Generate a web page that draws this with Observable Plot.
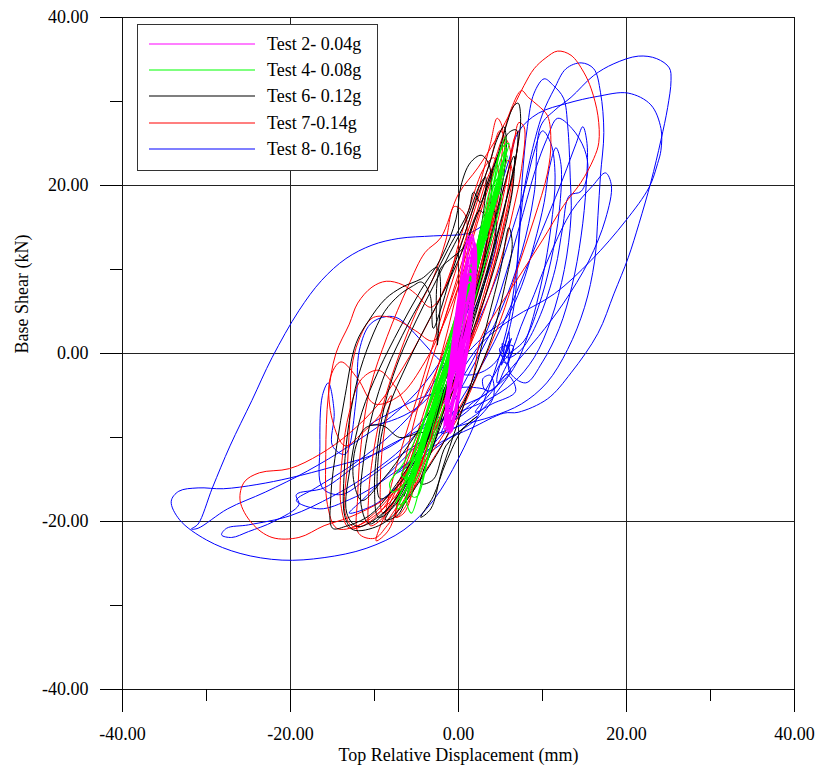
<!DOCTYPE html>
<html><head><meta charset="utf-8">
<script src="https://cdn.jsdelivr.net/npm/d3@7"></script>
<script src="https://cdn.jsdelivr.net/npm/@observablehq/plot@0.6"></script>
<style>
body{margin:0;background:#fff;}
#wrap{position:relative;width:820px;height:769px;font-family:"Liberation Serif","Times New Roman",serif;}
#legend{position:absolute;left:137px;top:24px;width:241px;height:147px;border:1px solid #333;background:#fff;box-sizing:border-box;}
.row{position:absolute;left:11px;height:20px;display:flex;align-items:center;font-size:18px;color:#000;white-space:nowrap;}
.row svg{margin-right:12px;display:block;}
</style>
</head><body>
<div id="wrap"><div id="chart"></div><div id="legend"></div></div>
<script>
// Axis ticks
const majorTicks = [-40, -20, 0, 20, 40];
const minorTicks = [-30, -10, 10, 30];
const gridLines = [-20, 0, 20];

// Series names and colours
const seriesNames = ["Test 2- 0.04g", "Test 4- 0.08g", "Test 6- 0.12g", "Test 7-0.14g", "Test 8- 0.16g"];
const seriesColors = ["#ff00ff", "#00ff00", "#000000", "#ff0000", "#0000ff"];

// Test 8 - 0.16g  [displacement mm, base shear kN]
const test8 = [
 [5.7,0],[6.3,1.8],[5.1,-1.4],[6.0,2.6],[5.8,-1.2],[4.9,0.6],[6.5,0.9],[5.3,-2.3],[4.3,-4.2],[3.2,-4.4],[2.9,-3],[3.8,-2.6],[4.2,-5],[2.5,-7.5],
 [-1,-10],[-4.5,-12.5],[-7.5,-14.3],[-6,-13],[-2,-8],[2,-1],[5,5],[7.5,12],[9,19],[9.8,27.1],[11.5,29],[13.4,30.5],[16.1,33.1],[18.5,34.5],[21.4,35.4],[23.6,35.1],[25.1,34],[25.3,32.5],[24.9,29.3],[24.1,25.4],[22.9,20.4],[21.5,15.5],[20.2,11.4],[18.5,7.1],[16.6,2.4],[13.4,-2.3],[10.6,-5.4],[7.1,-7],[5.4,-7.1],[1.5,-8.9],[-2,-10.5],[-6,-13],[-10,-15.8],[-13,-17.4],[-16.5,-18.5],[-19.3,-17.5],[-17,-16],[-13,-13.5],[-9,-10.5],[-5,-6.5],[-1.5,-1],[1.5,4.5],[3.5,9.5],[4.5,13.5],[3.8,15.5],[1.2,14.3],[-3,14],[-7.1,13.7],[-10.3,12.9],[-13.4,11.3],[-16.3,8.7],[-19,5.1],[-22.2,-0.5],[-24.6,-5.6],[-27.2,-11],[-29.3,-16],[-31,-20.3],[-31.8,-20.9],[-31,-20.8],[-27.5,-18.5],[-23,-16.5],[-18,-14],[-13,-11],[-8,-7.5],[-4,-3.5],[-1,1],[1.5,6],
 [3,12],[4.5,18],[6,23],[7.2,26.5],[9.5,28.6],[13,29.8],[16.5,30.6],[20.2,31],[22.9,29.6],[24.1,26.8],[24.1,24.2],[23.7,22.6],[22.7,19.8],[19.9,15.8],[15.8,11.1],[11.4,7.1],[6.6,4.3],[3,1.5],[0,-2.5],[-3,-6.5],[-6.5,-10],
 [-10,-12],[-15,-13.5],[-20,-14.8],[-24,-15.6],[-28,-16.1],[-31,-16],[-33.3,-16.4],[-34.2,-17.6],[-33.2,-19.8],[-30,-22.2],[-26,-23.8],[-21,-24.6],[-16,-24.3],[-11,-23.2],[-6.5,-21],[-3,-17.5],[0,-12.5],[2.5,-7],[4.5,-1.5],[6,4],
 [7,11],[7.6,18],[8.5,23],[10,28.5],[11.4,31.5],[12.8,33.9],[14.6,34.6],[16.1,33.9],[16.9,31.1],[17.3,26.3],[16.9,21.2],[16.6,16.4],[16.2,11],[15,5.5],[13,0.5],[10.5,-3.5],[7.5,-6],[4,-7.5],[0.5,-8.5],[-3.5,-10],[-7.5,-12.5],[-11,-15],[-14,-16.8],[-16.2,-16],[-16.5,-11],[-16.2,-5],[-15.5,-3.5],[-14.8,-7],[-15,-11],[-13.5,-12],[-12.2,-5.6],[-11.8,0.4],[-10.5,3.5],[-8.6,4.4],[-7.2,4.2],[-5.9,3.1],[-4.4,1.5],[-2,-1],[0.5,-2.5],[2.8,-2.2],[4.8,-0.5],
 [6.5,5],[7.2,14],[7.6,21],[8.2,27],[9,31],[10.2,32.7],[11.3,31.9],[12.5,30.4],[13,27.1],[13.3,21],[13.4,16.4],[12.6,10],[11,4],[9,-0.5],[6.5,-3.5],[3.5,-5.5],[0,-7],[-4,-8.8],[-8,-10.8],[-12,-13.2],[-16,-16],[-19.3,-16.8],[-19,-18],[-22,-20],[-25,-21.2],[-27,-21.9],[-28.2,-21.6],[-27.6,-20.8],[-25,-20.4],[-20,-19.3],[-15,-17],[-11,-14.6],[-7.5,-12],[-4.5,-9],[-1.5,-5.5],[1,-2],
 [3.5,3],[5.5,9],[7.5,16],[9.2,22],[10.5,25.5],[11.8,28],[13.5,26.8],[15,24.3],[15.4,21.8],[14.6,19.3],[13.2,18.8],[12.4,15],[11.5,10],[9.5,4],[7.5,0.5],[5.8,-0.5],[5.2,1.2],[6.1,0.3],[5.4,-0.8],[6,1.5],[5.6,0.2],
 [4,-3],[2,-6],[-1,-8],[-3,-7],[-1,-3],[2,3],[4.5,9],[6.5,15],[8,20],[9,24],[10,26.5],[11,25],[11.5,21],[11,15],[10,9],[8.5,3],[7,-1],[5,-4],[3,-6.5],[1,-8],[-2,-9.5],[0,-6],[3,-1],[5.5,4],[8,10],[10.5,16],[12.5,21],[14,25],[14.8,27],[15.3,25],[15.2,20],[14.6,14],[13.5,8],[12,3],[10,-1],[8,-3.5],[6,-2],[7,2],[9,7],[11,12],[13.5,17],[16,20],[17.5,21.5],[18.2,20],[17.5,16],[15.5,11],[12.5,6],[9.5,2],[6.5,-1.5],[4,-4.5],[2,-7],[4,-6],[6.8,-4.5],[5.8,-2.5],[4.6,-3.5],[5.2,-1],[6.2,-2],
 [3,-5],[0,-6.5],[-3,-9],[-6,-12],[-9,-15],[-11.5,-17.5],[-13,-19],[-10,-18],[-7,-15.5],[-4,-12],[-1,-8.5],[1.5,-6],[3.5,-4.5],[1,-4],[-2,-4.5],[-5,-5.5],[-8,-7],[-10.5,-8.5],[-8,-8],[-5,-6.5],[-2,-3.5],[1,0],[3.5,2.5],[5.5,4],[7.5,8],[9,13],[10.2,18],[10.8,22],[11.6,24.5],[12.2,22.5],[12,17],[11,11],[9.5,5.5],[7.8,1.5],[6,0]
];

// Test 7 - 0.14g
const test7 = [
 [0,0],[-1.5,-5],[-3.5,-10],[-6,-15],[-9,-18.5],[-12,-20.5],[-14.5,-20.8],[-15.6,-18],[-15.8,-12],[-15.5,-5],[-14.6,0],[-13,3.5],[-12,6],[-10.3,7.9],[-8.6,8.6],[-6.7,8.2],[-5.1,7.1],[-3.3,5.5],[-1.5,8],[0,13],[1.5,18],[3,22],[4.2,23.3],[4.8,21],[3.8,15],[2.2,8],[0.5,2],[-1.5,-4],[-4,-10],[-7,-15.5],[-10,-19],[-12.5,-20.6],[-13.5,-19],[-13.2,-13],[-12.9,-7],[-12.7,-1.7],[-11.9,1.5],[-10.3,4.2],[-8.6,4.4],[-7.1,3.9],[-5.1,2.7],[-3,1.5],[-1,6],[1,12],[2.5,17],[4,22],[5.3,26],[6.3,29.2],[7.5,31.3],[8.3,30.5],[9.5,29.5],[10.6,28.3],[11,25.1],[10.6,21.5],[9,16],[7,10],[5,4],[2.5,-2],[0,-7.5],[-3,-12.5],[-6,-17],[-8.5,-20.5],[-10,-22],[-11.9,-21.4],[-12,-17],[-11.5,-10],[-10.5,-4],[-8.5,2],[-6,8],[-4,12],[-2.1,13.8],[0,19],[2.3,22.1],[4.4,25.4],[6.6,29.5],[7.8,31.9],[9,33.9],[10.4,35.2],[11.8,36],[13.4,35.5],[14.9,33.5],[15.8,31.5],[16.6,28.3],[16.7,25.1],[16.1,23.2],[14.6,20.4],[12.5,17.6],[10,13.5],[7.1,9],[4.5,5],[2.7,1.9],[1.5,-3.6],[-0.5,-7.5],[-3,-11.5],[-6,-15],[-9,-17.5],[-13,-19.5],[-16,-20.5],[-19,-21.9],[-22.2,-21.9],[-24.6,-20.2],[-26,-17.5],[-25.5,-15.3],[-23.7,-14.2],[-20.1,-13.7],[-16.5,-12],[-13,-9.5],[-9.5,-6],[-6.5,-1.5],[-4,3],[-2,7],[-0.5,11],[1,15],[2.5,20],[3.8,25],[4.6,28],[5.2,27],[5,22],[4,16],[2.5,10],[1,4],[-1,-1.5],[-3,-7],[-5.5,-12.5],[-8,-17.5],[-9.8,-22.3],[-8.3,-21],[-7,-17],[-5.5,-12],[-3.5,-6.5],[-1.5,-1],[0.5,4.5],[2.5,10],[4,15.5],[5.5,20],[6.5,24.5],[7.2,27.5],[7.8,27],[7.5,22],[6.5,17],[5,11],[3,5],[1,0],[-1,-5],[-3,-9.5],[-5.5,-14],[-7.5,-17.5],[-9,-19],[-9.3,-15],[-8.8,-9],[-8,-5],[-9.5,-7.5],[-11.5,-9.5],[-13.5,-11],[-15,-8],[-15.3,-3],[-14,-1],[-12,-3],[-10,-6],[-7,-5],[-4,-1],[-2,3],[0,8],[1.5,13],[3,18],[4.5,22.5],[5.6,25.5],[6.2,24],[5.8,19],[4.6,13],[3,7],[1.5,2],[0,-2],[-2,-7],[-4,-12],[-6,-16.5],[-7.5,-19.5],[-6.5,-19],[-5,-15],[-3,-9],[-1,-3],[1,3],[3,9.5],[4.5,15],[5.8,21],[6.7,25.8],[7.2,26.5],[6.8,23],[5.5,16],[3.8,9],[2,3],[0,-3],
 [-2.5,-8.5],[-5,-14],[-7.5,-18.5],[-8.7,-20],[-8.3,-17],[-6.7,-11],[-5,-5.5],[-3.2,0.5],[-1.4,6.5],[0.5,12.5],[2.2,18],[3.8,23],[4.9,26.5],[5.4,26],[5.1,21],[4,15],[2.5,9],[0.8,3],[-1,-3],[-3,-9],[-5,-14.5],[-6.5,-18],[-5.5,-16],[-4,-10.5],[-2.3,-4.5],[-0.6,1.5],[1.2,7.5],[3,13.5],[4.6,19],[5.9,23],[6.5,21],[5.5,15.5],[3.8,9],[2,3],[0,-2],[-2,-7.5],[-4.2,-13.5],[-6.3,-18.2],[-7.4,-19.5],[-6.8,-15],[-5.5,-9],[-4,-3.5],[-2,3],[0,9.5],[1.8,15.5],[3.3,20.5],[4,22],[3.3,17],[1.8,11],[0,5],[-1.8,-1],[-3.8,-7],[-5.5,-12],[-7,-16],[-8.5,-19],[-10.5,-20.5],[-10.7,-17],[-10,-11],[-8.8,-5.5],[-7,0],[-5,5],[-3,9],[-1.5,13.5],[-0.5,17.5],[0.8,16.5],[0.8,12],[-0.5,6],[-2,0],[-3.8,-6],[-5.8,-12],[-8,-17],[-10.5,-20],[-13,-20.8],[-14,-18],[-13.8,-12],[-13,-7],[-11.5,-3],[-9.5,-2],[-7.5,-4],[-5.5,-7],[-3.5,-4],[-1.5,1],[0.5,7],[2.3,13],[3.8,18]
];

// Test 6 - 0.12g
const test6 = [
 [0,0],[-2,-5],[-4,-10],[-7,-15],[-10.5,-19.2],[-13.5,-20.6],[-15,-20.8],[-15.2,-17],[-14.5,-11],[-13.5,-5],[-12.2,1.2],[-10.7,3.9],[-8.7,6.5],[-6.7,7.9],[-4.4,8.9],[-2.5,10.2],[-2.5,1],[-2.3,9.8],[-0.9,11.3],[0.5,12.5],[2,16],[3.5,20],[4.8,24],[5.8,27.5],[6.6,29.5],[7.1,29.8],[7.4,28],[7.1,25],[6,19.5],[4.5,13.5],[3,8],[1,2],[-1,-3.5],[-3.5,-9.5],[-6,-15],[-9,-19],[-12,-20.6],[-13.3,-19],[-12.8,-13],[-11.5,-7],[-9.5,-2],[-7,3],[-4.5,7.5],[-2,11.5],[-0.3,16],[0.3,20],[1.4,22.7],[2.7,23.6],[3.6,22.6],[3.9,20.3],[3.6,15],[2.6,9],[1,3],[-1,-3],[-3,-8.5],[-5.5,-14],[-8,-18],[-10.6,-20.3],[-11.6,-18],[-11.2,-12],[-10.2,-7],[-8.6,-2],[-6,3.5],[-3.5,8],[-1.2,12.5],[1.2,17],[1.8,19.2],[2.6,18],[3.5,20.5],[4.8,23.8],[6,26.3],[6.9,26.6],[6.8,23],[5.6,18],[4,12],[2.2,6],[0.3,0.5],[-2,-5.5],[-4.5,-11.5],[-7,-15.5],[-9.3,-17.3],[-9.6,-13],[-8.5,-7],[-6,-1],[-3.5,4],[-1.2,8.5],[0.8,13],[2.5,17],[3.3,16],[2.5,11],[1,5],[-0.5,-0.5],[-2.2,-6],[-4.2,-11.5],[-6.7,-16.5],[-8.7,-19.8],[-7.2,-19.2],[-5.6,-15],[-4,-9.5],[-7,-10],[-9,-8.6],[-11,-8.8],[-12.2,-11],[-12.5,-15],[-11.5,-17.5],[-9,-15],[-6,-11],[-3.5,-7],[-1.5,-3],[0.5,2],[2.5,8],[4,14],[5.2,19],[6,22],[6.6,23.5],[6.5,20],[5.3,14],[3.6,8],[1.8,3],[0,-1.5],[-1.5,-6],[-3,-11],[-4.5,-15.5],[-3,-15],[-1.5,-11],[1,-8.5],[2.2,-7.5],[0.5,-9],[-1.5,-13],[-3,-17],[-4.5,-19.5],[-3.3,-18.5],[-2,-14],[0,-8],[2,-2],[3.5,4],[5,10],[6,15],[6.4,13],[5.5,8],[4,2],[2,-3],[0,-7],
 [-2,-11],[-4.5,-15],[-7,-18.5],[-9.5,-20.5],[-12.5,-21],[-13.5,-19.5],[-13.6,-14],[-13,-8],[-12,-3],[-10.5,1.5],[-8.8,5],[-7,7],[-5.5,8],[-4.4,8.5],[-3.4,7],[-3,3],[-2.2,5],[-1,9],[0.5,13.5],[2,18],[3.5,22],[4.6,25.5],[5.4,27],[5.7,25],[5.2,20],[4,14.5],[2.5,9],[0.8,3],[-1,-2.5],[-3,-8.5],[-5,-13.5],[-7.5,-18],[-9.5,-19.5],[-10,-16],[-9.5,-10],[-8.5,-5],[-7,-0.5],[-5,4],[-3,8],[-1,12],[1,16],[2.5,20],[3.2,21],[3,17],[2,12],[0.5,6],[-1.2,0],[-3,-6],[-4.8,-12],[-6.5,-17],[-5.5,-14],[-4,-9],[-2.3,-3.5],[-0.5,2],[1.3,7.5],[3,13],[4.2,17],[4.5,15],[3.5,10],[2,4.5],[0.4,-1],[-1.2,-6],[-3,-11],[-4.2,-14]
];

// Test 4 - 0.08g
const test4 = [
 [-1.2,0],[0.4,5],[1.9,10],[3.3,15],[4.6,20],[5.5,24],[5.6,25.8],[4.9,24],[3.6,19],[2.2,13],[0.7,7],[-0.8,1],[-2.4,-5],[-3.9,-10],[-5.2,-14],[-6.2,-17.5],[-5.6,-19],[-4.6,-16],[-3.2,-10.5],[-1.8,-5],[-0.2,1],[1.3,7],[2.8,12.5],[4.1,17.5],[4.9,21],[4.4,20.5],[3,15.5],[1.6,10],[0,4],[-1.6,-2],[-3.2,-8],[-4.6,-13],[-5.4,-15.5],[-4.5,-14],[-3,-8.5],[-1.4,-2.5],[0.2,3.5],[1.8,9.5],[3.2,14.5],[4.4,19],[5.3,22.5],[5.7,24.5],[5,23],[3.7,18],[2.4,12.5],[0.9,7],[-0.6,1.5],[-2.1,-4],[-3.6,-9.5],[-5.1,-14],[-6.6,-18],[-7.3,-18.5],[-6.2,-16],[-4.8,-12],[-3.3,-7.5],[-1.8,-2.5],[-0.3,2.5],[1.2,7.5],[2.6,12],[3.8,15.5],[3.4,15],[2,10.5],[0.6,5.5],[-0.9,0.5],[-2.5,-5],[-4.1,-10],[-5.7,-14.5],[-7.8,-16.5],[-8.2,-15.5],[-6.5,-13],[-4.8,-9.5],[-3.2,-5.5],[-1.5,-1],[0.2,4],[1.8,9],[3.3,14],[4.6,18.5],[5.2,20.5],[4.4,19],[3.1,14.5],[1.5,9],[0,4],[-1.6,-1.5],[-3.1,-6.5],[-4.6,-11],[-6,-15.5],[-7,-18],[-6.4,-17.5],[-5,-13.5],[-3.4,-9],[-1.9,-4],[-0.4,1],[1,6],[2.5,11],[3.9,16],[5,20.5],[5.8,23.5],[5.3,23],[4,18],[2.6,13],[1.1,8],[-0.4,3],[-2,-2.5],[-3.5,-7.5],[-5,-12],[-6.5,-15],[-5.4,-13.5],[-3.9,-9],[-2.3,-4],[-0.8,1],[0.8,6.5],[2.3,11.5],[3.5,14],[3,13],[1.5,8],[0,3],[-1.5,-2],[-3,-7],[-4.5,-12],[-5.5,-17],[-4.9,-17],[-3.6,-12.5],[-2.1,-7.5],[-0.6,-2.5],[1,3],[2.5,8.5],[4,14],[5.1,19],[4.6,18.8],[3.2,14],[1.8,9],[0.2,3.5],[-1.2,-1.5],
 [-2.8,-7],[-4.3,-11.5],[-5.8,-15.5],[-7,-17.5],[-6,-15.8],[-4.6,-11.5],[-3,-6.5],[-1.4,-1.5],[0.1,3.5],[1.6,8.5],[3.1,13.5],[4.4,18],[5.4,21.5],[4.8,21],[3.5,16.5],[2,11.5],[0.5,6.5],[-1,1.5],[-2.6,-3.5],[-4.2,-8.5],[-5.6,-12.5],[-6.8,-14.5],[-6,-14.8],[-4.4,-10],[-2.8,-5],[-1.2,0],[0.4,5],[2,10],[3.5,15],[4.7,19.5],[5.6,23.5],[6,25],[5.2,24.5],[4.1,20],[2.8,15],[1.3,10],[-0.2,5],[-1.8,-0.5],[-3.3,-5.5],[-4.8,-10.5],[-6.2,-15],[-7.5,-17.8],[-6.8,-16.5],[-5.3,-12],[-3.8,-7],[-2.2,-2],[-0.6,3],[1,8],[2.5,13],[3.8,17],[3.2,16],[1.8,11.5],[0.3,6.5],[-1.2,1.5],[-2.8,-3.5],[-4.3,-8.5],[-5.6,-13],[-6.3,-15.5],[-5.3,-14],[-3.7,-9],[-2.1,-4],[-0.5,1]
];

// Test 2 - 0.04g
const test2 = [
 [0.1,0],[1.1,4],[1.6,8],[1.6,11.5],[1.2,14],[0.8,12.5],[0.2,8],[-0.5,3],[-1.1,-2],[-1.4,-6],[-1.0,-9.5],[-0.5,-8],[0.4,-3.5],[1.2,1],[1.7,5.5],[1.8,9.5],[1.3,11.5],[0.5,9],[-0.2,4.5],[-0.9,-0.5],[-1.3,-5],[-1.2,-8],[-0.6,-6],[0.3,-1.5],[1.0,3],[1.5,7],[1.6,10],[1.0,10.5],[0.3,6.5],[-0.4,2],[-1.1,-2.5],[-1.5,-7],[-1.1,-9],[-0.4,-6.5],[0.5,-2],[1.3,2.5],[1.8,7],[1.9,11],[1.5,13.5],[0.9,13],[0.3,9],[-0.4,4],[-1,-1],[-1.3,-4],[-0.7,-3],[0.2,1],[1,5],[1.4,8.5],[0.9,8],[0.2,4],[-0.6,-0.5],[-1.4,-5.5],[-1.6,-8.5],[-1,-7.5],[-0.2,-3],[0.7,1.5],[1.5,6],[1.7,9],[1.2,9.5],[0.5,6],[-0.3,1.5],[-1,-3],[-1.2,-6.5],[-0.5,-4.5],[0.4,0],[1.2,4],[1.9,8.5],[2,12],[1.6,14.2],[1.1,12],[0.4,7.5],[-0.3,3],[-0.9,-1.5],[-1.5,-6.5],[-1.3,-9.3],[-0.7,-8.5],[0.1,-4.5],[0.9,0],[1.6,4.5],[1.9,9],[1.4,9.5],[0.6,5],[-0.2,0.5],[-1,-4],[-1.4,-8],[-0.9,-7],[-0.1,-2.5],[0.8,2],[1.4,6],[0.8,6],[0,2],[-0.7,-2],[-1.2,-5],[-0.6,-4],[0.1,0],
 [0.9,3],[1.5,6.5],[1.8,10],[1.6,12.5],[1.2,11],[0.6,7],[0,3],[-0.7,-1],[-1.3,-4.5],[-1.5,-7.5],[-1.2,-9],[-0.8,-7],[-0.1,-3],[0.6,0.5],[1.3,4],[1.8,7.5],[2,10.5],[1.7,12],[1.1,9],[0.5,5],[-0.2,1],[-0.9,-2.5],[-1.4,-6],[-1.7,-9],[-1.3,-8.5],[-0.6,-5],[0.2,-1],[1,2.5],[1.6,6],[1.9,9],[1.5,8],[0.8,4],[0,0],[-0.8,-3.5],[-1.3,-7],[-0.9,-6.5],[-0.2,-2.5],[0.6,1.5],[1.3,5],[1.7,8],[1.2,7],[0.5,3],[-0.3,-1],[-1,-4.5],[-1.2,-8],[-0.8,-9.3],[-0.3,-6],[0.4,-2],[1.1,2],[1.7,6],[2.1,10],[2,13],[1.4,13.8],[0.9,10],[0.3,6],[-0.4,2],[-1,-2],[-1.6,-6]
];

const fmt = d => d.toFixed(2);
const lineMark = (data, color, w) => Plot.line(data, {x: d => d[0], y: d => d[1], stroke: color, strokeWidth: w, curve: "catmull-rom"});

const chart = Plot.plot({
  width: 820,
  height: 769,
  marginLeft: 122,
  marginRight: 26,
  marginTop: 17,
  marginBottom: 80,
  x: {domain: [-40, 40]},
  y: {domain: [-40, 40]},
  style: {fontFamily: "'Liberation Serif', 'Times New Roman', serif", fontSize: "18px", background: "#fff", color: "#000"},
  marks: [
    Plot.ruleX(gridLines, {stroke: "#222", strokeWidth: 1}),
    Plot.ruleY(gridLines, {stroke: "#222", strokeWidth: 1}),
    lineMark(test8, seriesColors[4], 1),
    lineMark(test7, seriesColors[3], 1),
    lineMark(test6, seriesColors[2], 1),
    lineMark(test4, seriesColors[1], 1.1),
    lineMark(test2, seriesColors[0], 1.6),
    Plot.frame({stroke: "#111", strokeWidth: 1}),
    Plot.axisX({ticks: majorTicks, tickSize: 23, tickPadding: 15, tickFormat: fmt, label: null, fontSize: 18}),
    Plot.axisX({ticks: minorTicks, tickSize: 12, tickFormat: () => "", label: null}),
    Plot.axisY({ticks: majorTicks, tickSize: 22, tickPadding: 12, tickFormat: fmt, label: null, fontSize: 18}),
    Plot.axisY({ticks: minorTicks, tickSize: 12, tickFormat: () => "", label: null}),
    Plot.text(["Top Relative Displacement (mm)"], {text: d => d, frameAnchor: "bottom", dy: 71, fontSize: 18}),
    Plot.text(["Base Shear (kN)"], {text: d => d, frameAnchor: "left", dx: -100, rotate: -90, fontSize: 18})
  ]
});
document.getElementById("chart").appendChild(chart);

// Legend
const legend = document.getElementById("legend");
const rowTops = [9, 35, 61, 88, 114];
const svgNS = "http://www.w3.org/2000/svg";
seriesNames.forEach((name, i) => {
  const row = document.createElement("div");
  row.className = "row";
  row.style.top = rowTops[i] + "px";
  const sw = document.createElementNS(svgNS, "svg");
  sw.setAttribute("width", "106");
  sw.setAttribute("height", "4");
  const ln = document.createElementNS(svgNS, "line");
  ln.setAttribute("x1", "0"); ln.setAttribute("x2", "106");
  ln.setAttribute("y1", "2"); ln.setAttribute("y2", "2");
  ln.setAttribute("stroke", seriesColors[i]);
  ln.setAttribute("stroke-width", "1.2");
  sw.appendChild(ln);
  const t = document.createElement("span");
  t.textContent = name;
  row.appendChild(sw);
  row.appendChild(t);
  legend.appendChild(row);
});
</script>
</body></html>
